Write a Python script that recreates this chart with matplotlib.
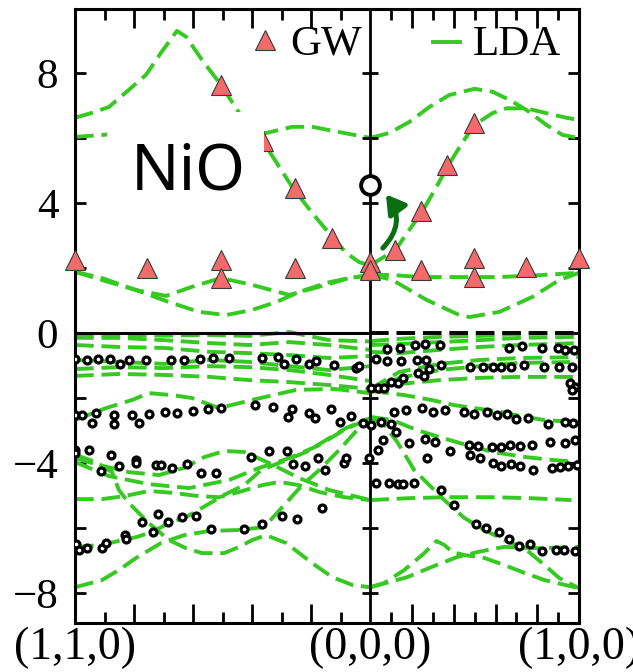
import numpy as np
import matplotlib.pyplot as plt
from matplotlib.patches import Rectangle, FancyArrowPatch

# path coordinate: (1,1,0) at -sqrt(2), Gamma at 0, (1,0,0) at 1
K, G, X = -np.sqrt(2), 0.0, 1.0

# ---- LDA conduction bands (k, eV) ----
cA_q = [-1.414, -1.333, -1.252, -1.156, -1.074, -1.002, -0.926, -0.882, -0.806, -0.715,
        -0.628, -0.494, -0.374, -0.278, -0.182, -0.115, -0.053, 0]
cA_e = [6.62, 6.77, 6.95, 7.48, 7.94, 8.62, 9.29, 9.11, 8.40, 7.63,
        6.77, 5.69, 4.49, 3.69, 2.95, 2.46, 2.18, 2.07]
cD_q = [0, 0.043, 0.120, 0.187, 0.245, 0.317, 0.369, 0.441, 0.499, 0.585, 0.652, 0.748, 0.844, 0.940, 1.0]
cD_e = [2.07, 2.25, 2.55, 3.17, 3.69, 4.49, 5.11, 5.85, 6.40, 6.76, 6.91, 6.91, 6.76, 6.62, 6.55]
cB_q = [-1.414, -1.285, -1.060, -0.820, -0.628, -0.499, -0.374, -0.278, -0.149, 0]
cB_e = [6.03, 6.09, 6.22, 6.25, 6.22, 6.15, 6.34, 6.34, 6.18, 6.00]
cC_q = [0, 0.091, 0.187, 0.283, 0.379, 0.499, 0.585, 0.667, 0.748, 0.844, 0.921, 1.0]
cC_e = [6.00, 6.15, 6.49, 6.95, 7.32, 7.51, 7.42, 7.17, 6.86, 6.40, 6.09, 6.00]
cL1_q = [-1.414, -1.285, -1.122, -0.964, -0.820, -0.691, -0.566, -0.451, -0.341, -0.211, -0.101, 0]
cL1_e = [1.88, 1.63, 1.32, 0.95, 0.65, 0.55, 0.71, 0.95, 1.26, 1.54, 1.69, 1.78]
cL2_q = [-1.414, -1.285, -1.122, -0.978, -0.854, -0.715, -0.566, -0.388, -0.211, -0.101, 0]
cL2_e = [1.88, 1.69, 1.32, 1.14, 1.42, 1.69, 1.48, 1.17, 1.48, 1.69, 1.78]
cR1_q = [0, 0.106, 0.245, 0.427, 0.619, 0.811, 1.0]
cR1_e = [1.80, 1.78, 1.72, 1.72, 1.72, 1.78, 1.85]
cR2_q = [0, 0.106, 0.269, 0.427, 0.475, 0.619, 0.777, 0.906, 1.0]
cR2_e = [1.80, 1.63, 1.02, 0.55, 0.49, 0.65, 1.11, 1.63, 1.85]

# ---- LDA valence bands ----
vq_left = [-1.414, -1.204, -0.988, -0.772, -0.580, -0.388, -0.197, 0]
t1 = [-0.06, -0.06, -0.08, -0.06, -0.09, 0.03, -0.22, -0.26]
t2 = [-0.15, -0.15, -0.22, -0.31, -0.37, -0.28, -0.37, -0.52]
t3 = [-0.37, -0.43, -0.46, -0.58, -0.62, -0.68, -0.77, -0.71]
t4 = [-0.83, -0.89, -0.95, -0.83, -0.89, -1.02, -1.14, -1.02]
t5 = [-1.11, -1.05, -1.08, -1.02, -1.05, -1.14, -1.29, -1.48]
t6 = [-1.32, -1.26, -1.29, -1.35, -1.45, -1.51, -1.60, -1.72]

vq_right = [0, 0.139, 0.332, 0.524, 0.716, 1.0]
rt1 = [-0.25, -0.18, -0.12, -0.09, -0.03, 0.00]
rt2 = [-0.37, -0.34, -0.28, -0.22, -0.15, -0.12]
rt3 = [-0.58, -0.62, -0.52, -0.43, -0.37, -0.31]
rt4 = [-1.72, -1.20, -0.95, -0.83, -0.77, -0.74]
rt5 = [-1.78, -1.38, -1.14, -1.02, -0.92, -0.89]
rt6 = [-1.78, -1.57, -1.45, -1.38, -1.35, -1.35]

lA_q = [-1.414, -1.266, -1.141, -1.060, -0.950, -0.854, -0.724, -0.566, -0.355, -0.173, 0]
lA_e = [-2.68, -2.31, -2.06, -1.85, -1.91, -2.00, -2.31, -2.06, -1.75, -1.72, -1.85]
lB_q = [-1.414, -1.300, -1.156, -1.012, -0.892, -0.796, -0.700, -0.604, -0.484, -0.341, -0.197, 0]
lB_e = [-3.85, -4.06, -4.28, -4.37, -4.15, -3.82, -3.63, -3.66, -4.00, -4.46, -4.83, -5.14]
lE_q = [-1.414, -1.285, -1.180, -1.060, -0.940, -0.820, -0.724, -0.628, -0.518, -0.436, -0.341, -0.245, -0.125, 0]
lE_e = [-5.11, -5.11, -5.02, -4.86, -4.92, -5.02, -5.05, -4.89, -4.68, -4.58, -4.68, -4.89, -5.05, -5.14]
lC_q = [-1.414, -1.314, -1.237, -1.204, -1.156, -1.060, -0.964, -0.882, -0.806, -0.700, -0.628, -0.566,
        -0.499, -0.403, -0.278, -0.182, -0.086, 0]
lC_e = [-3.75, -3.97, -4.28, -4.83, -5.23, -5.85, -6.37, -6.62, -6.77, -6.77, -6.58, -6.37,
        -6.22, -6.46, -7.08, -7.51, -7.75, -7.82]
lH_q = [-1.414, -1.285, -1.189, -1.122, -1.046, -0.964, -0.882, -0.806, -0.700, -0.604, -0.523,
        -0.403, -0.307, -0.211, -0.115, 0]
lH_e = [-6.58, -6.52, -6.37, -6.28, -6.12, -5.85, -5.66, -5.38, -4.98, -4.68, -4.22,
        -3.91, -3.66, -3.29, -2.92, -2.62]
lD_q = [-1.414, -1.285, -1.204, -1.122, -1.002, -0.892, -0.772, -0.628, -0.508, -0.412, -0.326,
        -0.245, -0.149, -0.072, 0]
lD_e = [-7.82, -7.60, -7.29, -6.92, -6.46, -6.22, -6.09, -6.06, -5.97, -5.29, -4.68,
        -4.22, -3.60, -3.05, -2.68]
lF_q = [-1.414, -1.252, -1.060, -0.868, -0.676, -0.532, -0.388, -0.245, -0.125, 0]
lF_e = [-3.97, -4.40, -4.65, -4.77, -4.52, -4.15, -3.85, -3.45, -2.98, -2.62]

rE_q = [0, 0.187, 0.379, 0.571, 0.763, 0.964]
rE_e = [-5.14, -5.08, -5.05, -5.05, -5.08, -5.14]
rM1_q = [0, 0.106, 0.221, 0.331, 0.427, 0.585, 0.748, 0.882, 1.0]
rM1_e = [-2.58, -2.68, -2.98, -3.20, -3.38, -3.66, -3.82, -3.91, -3.97]
rM2_q = [0, 0.163, 0.293, 0.403, 0.499, 0.628, 0.715, 0.835, 1.0]
rM2_e = [-1.78, -1.91, -2.06, -2.22, -2.31, -2.43, -2.55, -2.68, -2.74]
rD1_q = [0, 0.067, 0.129, 0.211, 0.283, 0.355, 0.451, 0.547, 0.643, 0.739, 0.835, 0.906, 1.0]
rD1_e = [-2.58, -2.83, -3.35, -4.22, -4.68, -5.14, -5.69, -6.06, -6.37, -6.62, -7.14, -7.54, -7.85]
rD2_q = [0, 0.177, 0.293, 0.417, 0.513, 0.580, 0.643, 0.801, 1.0]
rD2_e = [-7.82, -7.51, -7.20, -6.89, -6.74, -6.65, -6.58, -6.62, -6.58]
rD3_q = [0, 0.067, 0.163, 0.259, 0.317, 0.355, 0.393, 0.451, 0.547, 0.643, 0.739, 0.835, 1.0]
rD3_e = [-7.82, -7.69, -7.29, -6.77, -6.40, -6.52, -6.74, -6.83, -6.92, -7.14, -7.38, -7.60, -7.85]

# ---- GW quasiparticle energies ----
gw_q = [-1.414, -1.070, -0.715, -0.715, -0.360, -0.715, -0.513, -0.360, -0.182, 0, 0,
        0.120, 0.245, 0.245, 0.369, 0.499, 0.499, 0.499, 0.748, 1.0]
gw_e = [2.25, 2.00, 2.25, 1.69, 2.00, 7.63, 5.91, 4.46, 2.92, 2.18, 1.94,
        2.55, 1.94, 3.75, 5.17, 6.46, 2.31, 1.72, 2.03, 2.31]

# ---- ARPES (open circles), left: (1,1,0)-Gamma, right: Gamma-(1,0,0) ----
arpes_left_q = [
    -1.412, -1.356, -1.303, -1.248, -1.200, -1.156, -1.073, -0.956, -0.892, -0.817, -0.753,
    -0.676, -0.519, -0.440, -0.412, -0.356, -0.293, -0.260, -0.173, -0.069, -0.056,
    -1.414, -1.380, -1.335, -1.316, -1.228, -1.228, -1.140, -1.108, -1.060, -0.983, -0.924,
    -0.847, -0.776, -0.715, -0.552, -0.465, -0.376, -0.392, -0.293, -0.264, -0.188, -0.145,
    -0.090, -0.034, 0.003,
    -1.412, -1.412, -1.348, -1.244, -1.292, -1.204, -1.124, -1.124, -1.028, -1.004, -0.948,
    -0.879, -0.812, -0.740, -0.572, -0.484, -0.397, -0.369, -0.312, -0.248, -0.219, -0.125,
    -0.117, -0.008,
    -1.409, -1.396, -1.356, -1.284, -1.265, -1.175, -1.172, -1.095, -1.041, -1.015, -0.970,
    -0.903, -0.836, -0.764, -0.604, -0.519, -0.421, -0.353, -0.232]
arpes_left_e = [
    -0.81, -0.83, -0.81, -0.81, -0.96, -0.83, -0.84, -0.84, -0.84, -0.81, -0.76,
    -0.78, -0.76, -0.74, -0.96, -0.80, -0.96, -0.86, -0.98, -1.07, -1.01,
    -2.52, -2.52, -2.78, -2.47, -2.52, -2.81, -2.52, -2.78, -2.50, -2.44, -2.47,
    -2.40, -2.35, -2.32, -2.22, -2.27, -2.34, -2.58, -2.47, -2.62, -2.35, -2.73,
    -2.55, -2.76, -2.83,
    -3.60, -3.70, -3.60, -3.75, -4.25, -4.08, -3.91, -4.01, -4.06, -4.06, -4.14,
    -4.04, -4.32, -4.32, -3.81, -3.63, -3.63, -4.04, -4.08, -3.86, -4.22, -4.01,
    -3.84, -3.86,
    -6.49, -6.66, -6.62, -6.62, -6.47, -6.22, -6.35, -5.81, -6.11, -5.58, -5.81,
    -5.67, -5.63, -6.04, -6.04, -5.86, -5.63, -5.72, -5.38]
arpes_right_q = [
    0.080, 0.144, 0.215, 0.263, 0.335, 0.665, 0.725, 0.821, 0.898, 0.933, 0.978,
    0.027, 0.080, 0.148, 0.225, 0.268, 0.280, 0.337, 0.227, 0.476, 0.540, 0.588,
    0.628, 0.672, 0.737, 0.833, 0.905, 0.965,
    0.003, 0.035, 0.067, 0.100, 0.131, 0.155, 0.256, 0.957, 0.981, 0.965,
    0.051, 0.100, 0.124, 0.112, 0.172, 0.247, 0.300, 0.356, 0.449, 0.497, 0.561,
    0.609, 0.657, 0.700, 0.756, 0.850, 0.933, 0.973,
    0.059, 0.035, 0.188, 0.263, 0.308, 0.381, 0.273, 0.471, 0.516, 0.583, 0.625,
    0.670, 0.716, 0.773, 0.862, 0.933, 0.981,
    0.476, 0.524, 0.588, 0.628, 0.676, 0.716, 0.780, 0.869, 0.909, 0.949, 0.989,
    0.027, 0.091, 0.131, 0.155, 0.208, 0.337, 0.400, 0.508, 0.556, 0.617, 0.663,
    0.713, 0.764, 0.824, 0.888, 0.929, 0.981]
arpes_right_e = [
    -0.50, -0.45, -0.37, -0.34, -0.37, -0.45, -0.39, -0.45, -0.47, -0.52, -0.52,
    -0.80, -0.86, -0.85, -0.83, -0.83, -1.12, -0.98, -1.24, -1.04, -1.04, -1.04,
    -1.04, -1.04, -0.98, -1.04, -1.06, -1.04,
    -1.68, -1.68, -1.68, -1.50, -1.55, -1.39, -1.31, -1.55, -1.65, -1.75,
    -2.73, -2.81, -3.06, -2.42, -2.37, -2.32, -2.42, -2.37, -2.42, -2.50, -2.44,
    -2.52, -2.50, -2.66, -2.61, -2.81, -2.73, -2.76,
    -3.29, -3.60, -3.39, -3.26, -3.34, -3.62, -3.84, -3.45, -3.47, -3.50, -3.50,
    -3.45, -3.47, -3.45, -3.36, -3.39, -3.29,
    -3.75, -3.86, -3.99, -4.09, -4.03, -4.09, -4.22, -4.16, -4.11, -4.09, -4.06,
    -4.62, -4.61, -4.65, -4.66, -4.61, -4.83, -5.29, -5.86, -6.01, -6.11, -6.35,
    -6.55, -6.49, -6.71, -6.68, -6.68, -6.71]

# experimental gap marker at Gamma
gap_e = 4.55

lda_bands = [
    (cA_q, cA_e), (cD_q, cD_e), (cB_q, cB_e), (cC_q, cC_e),
    (cL1_q, cL1_e), (cL2_q, cL2_e), (cR1_q, cR1_e), (cR2_q, cR2_e),
    (vq_left, t1), (vq_left, t2), (vq_left, t3), (vq_left, t4), (vq_left, t5), (vq_left, t6),
    (vq_right, rt1), (vq_right, rt2), (vq_right, rt3), (vq_right, rt4), (vq_right, rt5), (vq_right, rt6),
    (lA_q, lA_e), (lB_q, lB_e), (lE_q, lE_e), (lC_q, lC_e), (lH_q, lH_e), (lD_q, lD_e), (lF_q, lF_e),
    (rE_q, rE_e), (rM1_q, rM1_e), (rM2_q, rM2_e), (rD1_q, rD1_e), (rD2_q, rD2_e), (rD3_q, rD3_e),
]

green = '#35c922'
serif = 'Liberation Serif'

fig, ax = plt.subplots(figsize=(6.33, 6.72), dpi=100)
fig.subplots_adjust(left=0.1185, right=0.9147, bottom=0.0734, top=0.9859)
ax.set_xlim(K, X)
ax.set_ylim(-8.91, 9.95)

for q, e in lda_bands:
    ax.plot(q, e, color=green, lw=2.8, dashes=(4.8, 2.0), zorder=2)

# valence band maximum reference
ax.plot([K, G], [0, 0], color='black', lw=2.2, zorder=2.5)
ax.plot([G, X], [0, 0], color='black', lw=2.8, dashes=(4.8, 2.0), zorder=2.5)
ax.axvline(G, color='black', lw=2, zorder=2.5)

ax.plot(arpes_left_q + arpes_right_q, arpes_left_e + arpes_right_e, 'o', ms=5.0,
        mfc='white', mec='black', mew=2.3, ls='none', zorder=3)
ax.plot(gw_q, gw_e, '^', ms=15, mfc='#f46a6a', mec='#3a3a3a', mew=0.8,
        ls='none', zorder=4, clip_on=False)

# white patch behind the compound label
ax.add_patch(Rectangle((-1.261, 3.94), 0.753, 2.86, facecolor='white',
                       edgecolor='none', zorder=5))
ax.text(-1.148, 4.40, 'NiO', fontsize=46, family='Noto Sans', ha='left',
        va='baseline', zorder=6)

ax.plot([G], [gap_e], 'o', ms=13.5, mfc='white', mec='black', mew=2.8, zorder=6, clip_on=False)
ax.add_patch(FancyArrowPatch((0.051, 2.55), (0.067, 4.33), connectionstyle='arc3,rad=0.45',
                             arrowstyle='-|>,head_length=0.5,head_width=0.3', mutation_scale=22,
                             color='#0b6e12', lw=3.6, zorder=6))

# legend drawn by hand so each entry sits on its own side of Gamma
ax.plot([0.377], [0.950], '^', ms=15, mfc='#f46a6a', mec='#3a3a3a', mew=0.8,
        transform=ax.transAxes, zorder=7)
ax.text(0.4266, 0.9258, 'GW', fontsize=31, family=serif, transform=ax.transAxes,
        ha='left', va='baseline', zorder=7)
ax.plot([0.710, 0.764], [0.9475, 0.9475], color=green, lw=2.8, transform=ax.transAxes, zorder=7)
ax.text(0.790, 0.9258, 'LDA', fontsize=31, family=serif, transform=ax.transAxes,
        ha='left', va='baseline', zorder=7)

# y ticks
ax.set_yticks([-8, -4, 0, 4, 8])
ax.set_yticklabels(['\u22128', '\u22124', '0', '4', '8'], fontsize=31, family=serif)
ax.set_yticks([-6, -2, 2, 6], minor=True)
ax.tick_params(axis='y', which='both', direction='in', length=8, width=2,
               right=True, pad=12)
ytk = [-8, -6, -4, -2, 2, 4, 6, 8]
ax.plot([G] * len(ytk), ytk, marker='_', ms=11, mew=2, color='black', ls='none', zorder=2.5)

# x ticks: ten divisions per segment, alternating long/short
i = np.arange(1, 10)
left_t = K + i * (-K) / 10
right_t = i * X / 10
ax.set_xticks(np.r_[left_t[1::2], right_t[1::2]])
ax.set_xticks(np.r_[left_t[0::2], right_t[0::2]], minor=True)
ax.tick_params(axis='x', which='major', direction='in', length=14, width=2, top=True,
               labelbottom=False)
ax.tick_params(axis='x', which='minor', direction='in', length=8, width=2, top=True)

xt = ax.get_xaxis_transform()
for pos, lab in [(K, '(1,1,0)'), (G, '(0,0,0)'), (X, '(1,0,0)')]:
    ax.text(pos, -0.041, lab, fontsize=33, family=serif, transform=xt,
            ha='center', va='center')

for s in ax.spines.values():
    s.set_linewidth(2.2)

fig.savefig('out.png', dpi=100)
